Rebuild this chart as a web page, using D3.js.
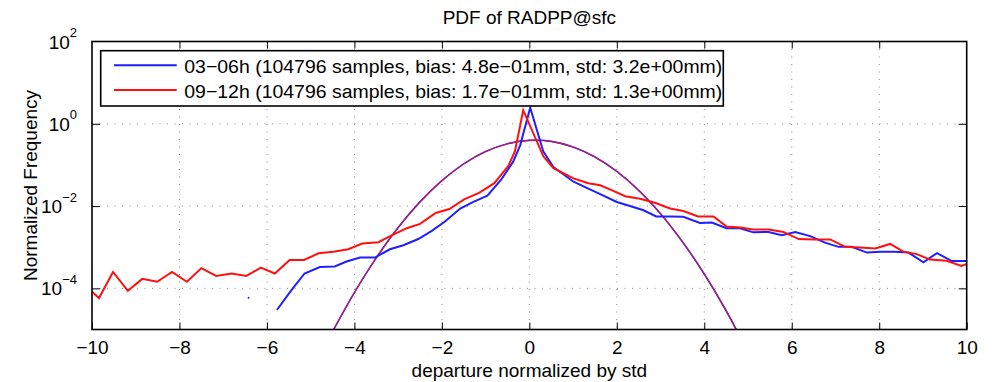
<!DOCTYPE html>
<html>
<head>
<meta charset="utf-8">
<script src="https://cdn.jsdelivr.net/npm/d3@7"></script>
<style>
  body { margin: 0; background: #fff; }
  svg { font-family: "Liberation Sans", Arial, sans-serif; }
</style>
</head>
<body>
<svg id="chart" width="996" height="382"></svg>
<script>
// 03-06h series (null = empty bin, leaves a gap)
const blueX = [-6.42, -6.1, -5.76, -5.44, -5.14, -4.79, -4.45, -4.18, -3.87, -3.53, -3.19, -2.88, -2.54, -2.23, -1.93,
  -1.58, -1.28, -0.96, -0.65, -0.37, -0.21, 0.02, 0.32, 0.55, 1.01, 1.30, 1.62, 2.0, 2.30, 2.61, 2.90, 3.22, 3.52,
  3.90, 4.17, 4.51, 4.82, 5.12, 5.47, 5.77, 6.08, 6.42, 6.76, 7.07, 7.37, 7.72, 8.02, 8.35, 8.67, 9.01, 9.32, 9.66, 10.0];
const blueY = [5.9e-5, null, 3.1e-5, 9.1e-5, 2.3e-4, 3.3e-4, 3.4e-4, 4.5e-4, 5.6e-4, 5.6e-4, 8.9e-4, 1.12e-3, 1.58e-3, 2.5e-3, 4.2e-3,
  8.7e-3, 1.26e-2, 1.78e-2, 4.3e-2, 0.12, 0.30, 2.45, 0.21, 8.9e-2, 3.9e-2, 2.8e-2, 1.95e-2, 1.26e-2, 1.0e-2, 7.9e-3, 5.6e-3, 5.6e-3, 5.5e-3,
  3.9e-3, 4.0e-3, 2.9e-3, 2.9e-3, 2.3e-3, 2.35e-3, 1.95e-3, 2.35e-3, 1.86e-3, 1.29e-3, 1.02e-3, 1.02e-3, 7.4e-4, 7.8e-4, 7.8e-4, 7.4e-4, 4.3e-4, 7.2e-4, 4.6e-4, 4.6e-4];

// 09-12h series
const redX = [-10.0, -9.84, -9.52, -9.18, -8.85, -8.51, -8.17, -7.83, -7.50, -7.16, -6.81, -6.47, -6.14, -5.82, -5.48, -5.15,
  -4.82, -4.48, -4.14, -3.82, -3.45, -3.15, -2.80, -2.50, -2.14, -1.83, -1.49, -1.15, -0.80, -0.48, -0.33, -0.14, 0.32, 0.55,
  1.01, 1.35, 1.62, 1.92, 2.19, 2.53, 2.87, 3.22, 3.52, 3.86, 4.21, 4.51, 4.82, 5.12, 5.47, 5.81, 6.16, 6.52, 6.88, 7.22,
  7.56, 7.91, 8.25, 8.55, 8.86, 9.16, 9.54, 9.88, 10.0];
const redY = [8.3e-5, 5.8e-5, 2.5e-4, 8.7e-5, 1.7e-4, 1.45e-4, 2.5e-4, 1.45e-4, 3.1e-4, 2.0e-4, 2.3e-4, 2.0e-4, 3.2e-4, 2.3e-4, 4.9e-4, 4.9e-4,
  7.1e-4, 7.8e-4, 8.9e-4, 1.23e-3, 1.32e-3, 1.95e-3, 2.9e-3, 3.7e-3, 6.8e-3, 8.5e-3, 1.45e-2, 2.1e-2, 3.6e-2, 9.5e-2, 0.214, 2.14, 0.162, 8.3e-2,
  4.7e-2, 3.6e-2, 3.2e-2, 2.35e-2, 1.74e-2, 1.51e-2, 1.2e-2, 8.7e-3, 7.6e-3, 5.6e-3, 5.6e-3, 3.2e-3, 3.0e-3, 2.7e-3, 2.7e-3, 2.35e-3, 1.58e-3, 1.55e-3, 1.55e-3, 1.02e-3,
  9.8e-4, 9.3e-4, 1.2e-3, 7.8e-4, 6.8e-4, 5.0e-4, 4.7e-4, 3.5e-4, 3.9e-4];

// reference normal curve (same for both series, drawn on top of each other)
const gaussX = [-4.5, -4.0, -3.5, -3.0, -2.5, -2.0, -1.5, -1.0, -0.5, 0, 0.5, 1.0, 1.5, 2.0, 2.5, 3.0, 3.5, 4.0, 4.5, 5.0];
const gaussY = [8.9e-6, 7.9e-5, 5.5e-4, 3.0e-3, 1.26e-2, 4.13e-2, 0.106, 0.211, 0.327, 0.396, 0.373, 0.273, 0.156, 6.95e-2, 2.41e-2,
  6.5e-3, 1.36e-3, 2.23e-4, 2.85e-5, 2.8e-6];

const xTicks = [-10, -8, -6, -4, -2, 0, 2, 4, 6, 8, 10];
const yTicks = [1e-4, 1e-2, 1, 1e2];
const legendLabels = [
  "03\u221206h (104796 samples, bias: 4.8e\u221201mm, std: 3.2e+00mm)",
  "09\u221212h (104796 samples, bias: 1.7e\u221201mm, std: 1.3e+00mm)"
];

const margin = {top: 41.5, right: 29.3, bottom: 52.5, left: 92},
    width = 996 - margin.left - margin.right,
    height = 382 - margin.top - margin.bottom;

const svg = d3.select("#chart");
const chart = svg.append("g").attr("transform", `translate(${margin.left},${margin.top})`);

const x = d3.scaleLinear().domain([-10, 10]).range([0, width]);
const y = d3.scaleLog().domain([1e-5, 1e2]).range([height, 0]);

svg.append("defs").append("clipPath").attr("id", "plot")
  .append("rect").attr("width", width).attr("height", height);

// dotted grid
const grid = chart.append("g").attr("stroke", "#8a8a8a").attr("stroke-width", 1).attr("stroke-dasharray", "1,6.5");
grid.selectAll("line.gx").data(xTicks.slice(1, -1)).enter().append("line")
  .attr("x1", d => x(d)).attr("x2", d => x(d)).attr("y1", 0).attr("y2", height);
grid.selectAll("line.gy").data(yTicks.slice(0, -1)).enter().append("line")
  .attr("x1", 0).attr("x2", width).attr("y1", d => y(d)).attr("y2", d => y(d));

const line = d3.line()
  .defined(d => d[1] != null)
  .x(d => x(d[0]))
  .y(d => y(d[1]));

const plot = chart.append("g").attr("clip-path", "url(#plot)");

const gauss = d3.zip(gaussX, gaussY);
const gline = d3.line().curve(d3.curveCatmullRom).x(d => x(d[0])).y(d => y(d[1]));
plot.append("path").attr("d", gline(gauss)).attr("fill", "none").attr("stroke", "#3030ff").attr("stroke-width", 1.7);
plot.append("path").attr("d", gline(gauss)).attr("fill", "none").attr("stroke", "#e01030").attr("stroke-width", 1.1).attr("opacity", 0.85);

plot.append("path").attr("d", line(d3.zip(blueX, blueY)))
  .attr("fill", "none").attr("stroke", "#1f1fff").attr("stroke-width", 2).attr("stroke-linecap", "round");
plot.append("path").attr("d", line(d3.zip(redX, redY)))
  .attr("fill", "none").attr("stroke", "#ff1010").attr("stroke-width", 2);

// axes
chart.append("g").attr("transform", `translate(0,${height})`)
  .call(d3.axisBottom(x).tickValues(xTicks).tickSize(-7).tickPadding(11).tickFormat(d3.format("d")))
  .call(g => g.select(".domain").remove())
  .call(g => g.selectAll("text").attr("font-size", 19).attr("fill", "#000").attr("font-family", "Liberation Sans"));
chart.append("g")
  .call(d3.axisTop(x).tickValues(xTicks.slice(1, -1)).tickSize(-7).tickFormat(""))
  .call(g => g.select(".domain").remove());
chart.append("g")
  .call(d3.axisLeft(y).tickValues(yTicks.slice(0, -1)).tickSize(-8).tickFormat(""))
  .call(g => g.select(".domain").remove());
chart.append("g").attr("transform", `translate(${width},0)`)
  .call(d3.axisRight(y).tickValues(yTicks.slice(0, -1)).tickSize(-8).tickFormat(""))
  .call(g => g.select(".domain").remove());

chart.append("rect").attr("width", width).attr("height", height)
  .attr("fill", "none").attr("stroke", "#000").attr("stroke-width", 1.6);

// y tick labels as 10^n
const ylab = chart.append("g").attr("font-size", 19).attr("text-anchor", "end");
yTicks.forEach(v => {
  const t = ylab.append("text").attr("x", -15).attr("y", y(v) + 7);
  t.append("tspan").text("10");
  t.append("tspan").attr("font-size", 13).attr("dy", -11.5)
    .text(String(Math.round(Math.log10(v))).replace("-", "\u2212"));
});

// titles
svg.append("text").attr("x", margin.left + width / 2).attr("y", 24)
  .attr("text-anchor", "middle").attr("font-size", 19).text("PDF of RADPP@sfc");
svg.append("text").attr("x", margin.left + width / 2).attr("y", 376.5)
  .attr("text-anchor", "middle").attr("font-size", 19).text("departure normalized by std");
svg.append("text").attr("transform", `translate(36.5,${margin.top + height / 2}) rotate(-90)`)
  .attr("text-anchor", "middle").attr("font-size", 19).text("Normalized Frequency");

// legend
const legend = svg.append("g").attr("transform", "translate(100.7,50.7)");
legend.append("rect").attr("width", 622.6).attr("height", 55.3)
  .attr("fill", "#fff").attr("stroke", "#000").attr("stroke-width", 1.6);
const legColors = ["#1f1fff", "#ff1010"];
legendLabels.forEach((lab, i) => {
  const ly = 14.6 + i * 24.7;
  legend.append("line").attr("x1", 13.3).attr("x2", 76).attr("y1", ly).attr("y2", ly)
    .attr("stroke", legColors[i]).attr("stroke-width", 2);
  legend.append("text").attr("x", 83.6).attr("y", ly + 8.2).attr("font-size", 19)
    .attr("textLength", 538).attr("lengthAdjust", "spacingAndGlyphs").text(lab);
});
</script>
</body>
</html>
